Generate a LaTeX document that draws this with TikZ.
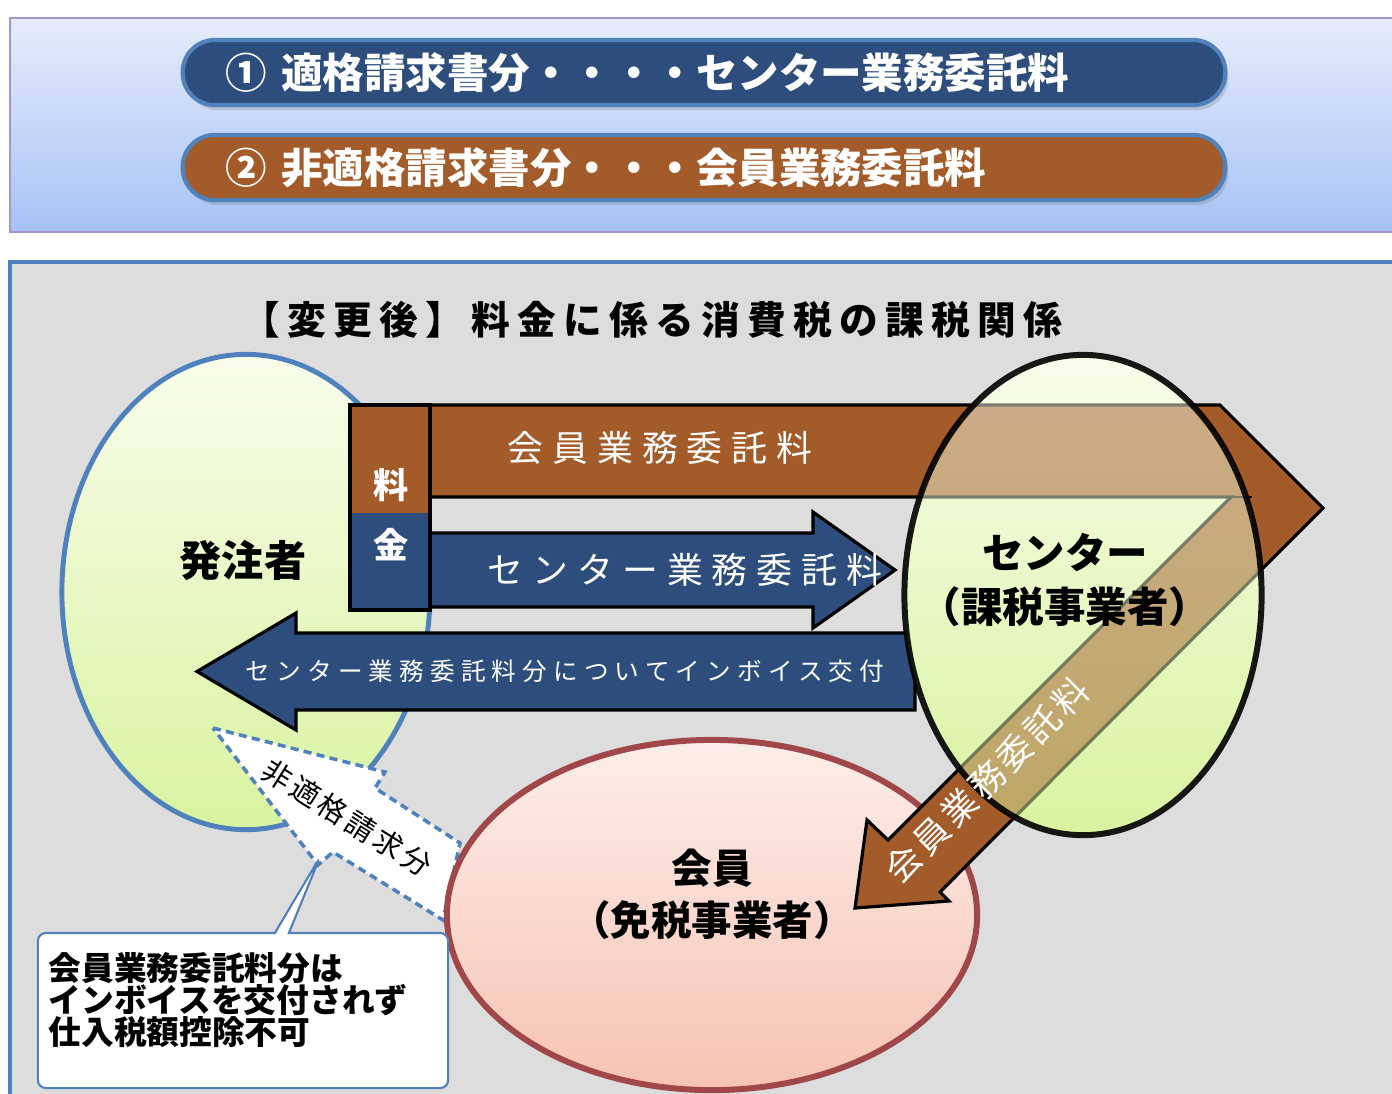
\documentclass[tikz,border=0pt]{standalone}
\usepackage{fontspec}
\setmainfont{Noto Sans CJK JP}
\newfontfamily\jpwide{Noto Sans CJK JP}[LetterSpace=25]
\newfontfamily\jptrack{Noto Sans CJK JP}[LetterSpace=12]
\newfontfamily\jptitle{Noto Sans CJK JP}[LetterSpace=19]
\usetikzlibrary{shapes.geometric,shapes.callouts,shadows}

\definecolor{panetop}{HTML}{E6ECFC}
\definecolor{panebot}{HTML}{A6C3F5}
\definecolor{paneline}{HTML}{A496CC}
\definecolor{panegrey}{HTML}{DDDDDD}
\definecolor{paneblue}{HTML}{4F81BD}
\definecolor{barblue}{HTML}{2D4E7C}
\definecolor{barbrown}{HTML}{A35B2A}
\definecolor{greentop}{HTML}{F8FDEA}
\definecolor{greenbot}{HTML}{D9F3A0}
\definecolor{pinktop}{HTML}{FDEEE9}
\definecolor{pinkbot}{HTML}{F7C3B3}
\definecolor{memberline}{HTML}{A0474A}

\tikzset{
  pill/.style={rounded corners=0.32cm, draw=paneblue, line width=1.2pt, text=white,
    minimum height=0.65cm, text width=9.56cm, inner xsep=0.43cm, align=left,
    font=\bfseries\fontsize{11.8}{12}\selectfont,
    drop shadow={opacity=0.3, shadow xshift=0.03cm, shadow yshift=-0.05cm}},
  barline/.style={draw=black, line width=0.9pt, line join=miter},
  bartext/.style={text=white, font=\jpwide\fontsize{10.2}{12}\selectfont},
  party/.style={ellipse, top color=greentop, bottom color=greenbot},
  partytext/.style={align=center, font=\bfseries\fontsize{12}{15.6}\selectfont}
}

\begin{document}
\begin{tikzpicture}[x=0.01cm, y=-0.01cm]
  %%%%% START %%%%%

  \useasboundingbox (0,0) rectangle (1392,1093);
  \fill[white] (0,0) rectangle (1392,1093);

  \path[top color=panetop, bottom color=panebot, draw=paneline, line width=0.6pt] (10,18) rectangle (1400,232);
  \node[pill, fill=barblue] (pillone) at (704,72.5) {① 適格請求書分・・・・センター業務委託料};
  \node[pill, fill=barbrown] (pilltwo) at (704,167.5) {② 非適格請求書分・・・会員業務委託料};

  \draw[fill=panegrey, draw=paneblue, line width=1pt] (10,262) rectangle (1400,1100);
  \node[font=\jptitle\bfseries\fontsize{11}{12}\selectfont] (title) at (652,320) {【変更後】料金に係る消費税の課税関係};

  % orderer
  \node[party, draw=paneblue, line width=1.4pt, minimum width=3.68cm, minimum height=4.75cm] (orderer) at (246,592) {};
  \node[partytext] (orderertext) at (243,560) {発注者};

  \draw[barline, fill=barblue] (915,633) -- (296,633) -- (296,613) -- (197,671.5) -- (296,730) -- (296,710) -- (915,710) -- cycle;
  \node[text=white, font=\jpwide\fontsize{7}{8}\selectfont] (invoicetext) at (565,671) {センター業務委託料分についてインボイス交付};

  \shade[top color=greentop, bottom color=greenbot] (1083,595) ellipse [x radius=1.785cm, y radius=2.4cm];

  \draw[fill=white, draw=paneblue, line width=1pt, dash pattern=on 2.3pt off 1.5pt] (213,728) -- (385,772) -- (375,788) -- (460,843) -- (443,920) -- (333,852) -- (318,865) -- cycle;
  \node[rotate=-32, font=\jptrack\fontsize{8.3}{10}\selectfont] (nonqual) at (347,818) {非適格請求分};

  % member
  \node[ellipse, draw=memberline, line width=1.7pt, top color=pinktop, bottom color=pinkbot, minimum width=5.3cm, minimum height=3.5cm] (member) at (712,915) {};
  \node[partytext, font=\bfseries\fontsize{11.5}{14.8}\selectfont] (membertext) at (712,894) {会員\\（免税事業者）};

  \node[rectangle callout, draw=paneblue, fill=white, line width=0.6pt, rounded corners=0.08cm, minimum width=4.1cm, minimum height=1.55cm, callout absolute pointer={(320,857)}, callout pointer width=0.14cm] (note) at (243,1010.5) {};
  \node[anchor=west, inner sep=0pt, align=left, font=\bfseries\fontsize{9.3}{9.2}\selectfont] (notetext) at (48,1000) {会員業務委託料分は\\インボイスを交付されず\\仕入税額控除不可};

  % fee arrows
  \draw[barline, fill=barbrown] (350,405) -- (1220,405) -- (1323,508) -- (940,892) -- (949,901) -- (855,908) -- (867,820) -- (888,840) -- (1231,497) -- (350,497) -- cycle;
  \draw[line width=0.6pt] (1231,497) -- (1252,497);
  \node[bartext] (memberfee) at (660,448) {会員業務委託料};

  \draw[barline, fill=barblue] (430,533) -- (813,533) -- (813,512) -- (895,570) -- (813,628) -- (813,607) -- (430,607) -- cycle;
  \node[bartext] (centrefee) at (685,570) {センター業務委託料};

  \fill[barbrown] (350,405) rectangle (430,513);
  \fill[barblue] (350,513) rectangle (430,610);
  \draw[line width=1pt] (350,405) rectangle (430,610);
  \node[text=white, font=\bfseries\fontsize{10}{12}\selectfont] (feeone) at (391,485) {料};
  \node[text=white, font=\bfseries\fontsize{10}{12}\selectfont] (feetwo) at (391,545) {金};

  % centre
  \node[party, draw=black, draw opacity=0.9, line width=1.7pt, fill opacity=0.5, minimum width=3.57cm, minimum height=4.8cm] (centre) at (1083,595) {};
  \node[partytext, font=\bfseries\fontsize{11.8}{15.6}\selectfont] (centretext) at (1065,580) {センター\\（課税事業者）};
  \node[rotate=45, text=white, font=\jptrack\fontsize{10}{12}\selectfont] (diagfee) at (987,780) {会員業務委託料};

  %%%%% END %%%%%
\end{tikzpicture}
\end{document}
